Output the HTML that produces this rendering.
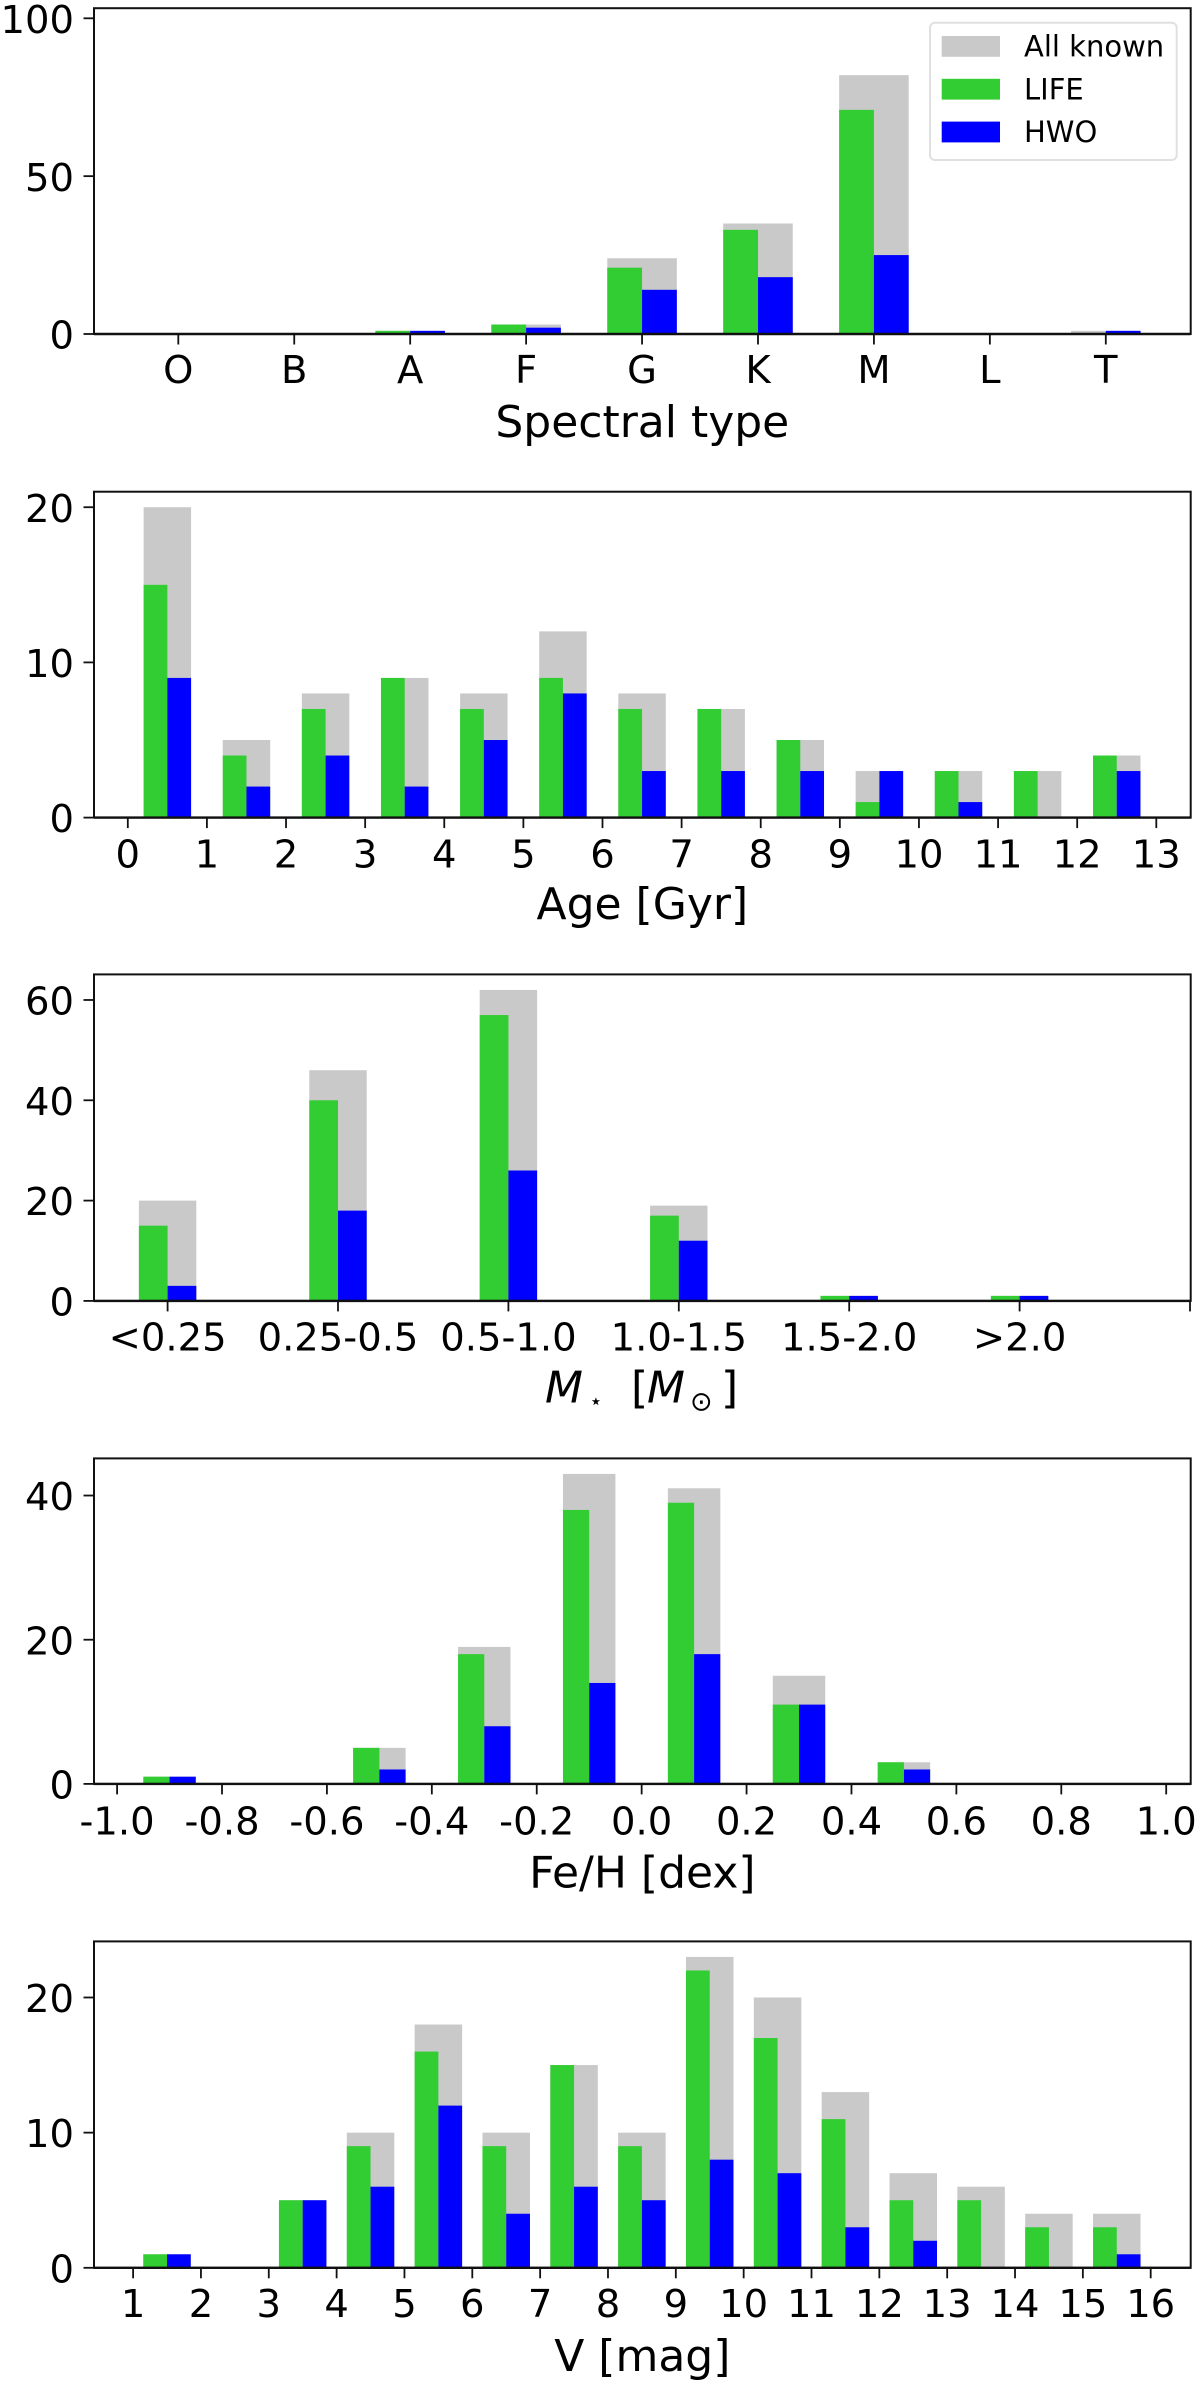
<!DOCTYPE html>
<html lang="en">
<head>
<meta charset="utf-8">
<title>Exoplanet host star distributions</title>
<style>
html,body{margin:0;padding:0;background:#fff}
svg{display:block}
text{font-family:"DejaVu Sans","Liberation Sans",sans-serif;fill:#000}
</style>
</head>
<body>
<svg id="figure" xmlns="http://www.w3.org/2000/svg" width="1200" height="2384" viewBox="0 0 1200 2384"></svg>
<script>
// Spectral type panel
const spectralCategories = [0, 1, 2, 3, 4, 5, 6, 7, 8];
const spectralTicks = [0, 1, 2, 3, 4, 5, 6, 7, 8];
const spectralTickLabels = ["O", "B", "A", "F", "G", "K", "M", "L", "T"];
const spectralYTicks = [0, 50, 100];
const spectralAll = [0, 0, 1, 3, 24, 35, 82, 0, 1];
const spectralLife = [0, 0, 1, 3, 21, 33, 71, 0, 0];
const spectralHwo = [0, 0, 1, 2, 14, 18, 25, 0, 1];

// Age panel
const ageCategories = [0.5, 1.5, 2.5, 3.5, 4.5, 5.5, 6.5, 7.5, 8.5, 9.5, 10.5, 11.5, 12.5];
const ageTicks = [0, 1, 2, 3, 4, 5, 6, 7, 8, 9, 10, 11, 12, 13];
const ageTickLabels = ["0", "1", "2", "3", "4", "5", "6", "7", "8", "9", "10", "11", "12", "13"];
const ageYTicks = [0, 10, 20];
const ageAll = [20, 5, 8, 9, 8, 12, 8, 7, 5, 3, 3, 3, 4];
const ageLife = [15, 4, 7, 9, 7, 9, 7, 7, 5, 1, 3, 3, 4];
const ageHwo = [9, 2, 4, 2, 5, 8, 3, 3, 3, 3, 1, 0, 3];

// Stellar mass panel
const massCategories = [0, 1, 2, 3, 4, 5];
const massTicks = [0, 1, 2, 3, 4, 5, 6];
const massTickLabels = ["<0.25", "0.25-0.5", "0.5-1.0", "1.0-1.5", "1.5-2.0", ">2.0", ""];
const massYTicks = [0, 20, 40, 60];
const massAll = [20, 46, 62, 19, 1, 1];
const massLife = [15, 40, 57, 17, 1, 1];
const massHwo = [3, 18, 26, 12, 1, 1];

// Metallicity panel
const fehCategories = [-0.9, -0.7, -0.5, -0.3, -0.1, 0.1, 0.3, 0.5];
const fehTicks = [-1, -0.8, -0.6, -0.4, -0.2, 0, 0.2, 0.4, 0.6, 0.8, 1];
const fehTickLabels = ["-1.0", "-0.8", "-0.6", "-0.4", "-0.2", "0.0", "0.2", "0.4", "0.6", "0.8", "1.0"];
const fehYTicks = [0, 20, 40];
const fehAll = [1, 0, 5, 19, 43, 41, 15, 3];
const fehLife = [1, 0, 5, 18, 38, 39, 11, 3];
const fehHwo = [1, 0, 2, 8, 14, 18, 11, 2];

// V magnitude panel
const vmagCategories = [1.5, 2.5, 3.5, 4.5, 5.5, 6.5, 7.5, 8.5, 9.5, 10.5, 11.5, 12.5, 13.5, 14.5, 15.5];
const vmagTicks = [1, 2, 3, 4, 5, 6, 7, 8, 9, 10, 11, 12, 13, 14, 15, 16];
const vmagTickLabels = ["1", "2", "3", "4", "5", "6", "7", "8", "9", "10", "11", "12", "13", "14", "15", "16"];
const vmagYTicks = [0, 10, 20];
const vmagAll = [1, 0, 5, 10, 18, 10, 15, 10, 23, 20, 13, 7, 6, 4, 4];
const vmagLife = [1, 0, 5, 9, 16, 9, 15, 9, 22, 17, 11, 5, 5, 3, 3];
const vmagHwo = [1, 0, 5, 6, 12, 4, 6, 5, 8, 7, 3, 2, 0, 0, 1];

const NS = 'http://www.w3.org/2000/svg';
const figure = document.getElementById('figure');
const COLOR_ALL = '#c9c9c9', COLOR_LIFE = '#32cd32', COLOR_HWO = '#0000ff';
const PLOT_LEFT = 94, PLOT_RIGHT = 1190.7;
const TICK_FONT = 38.5, LABEL_FONT = 44;

function el(tag, attrs, parent) {
  const node = document.createElementNS(NS, tag);
  for (const k in attrs) node.setAttribute(k, attrs[k]);
  (parent || figure).appendChild(node);
  return node;
}

function drawPanel(p) {
  const g = el('g', {});
  
  

  const xScale = v => p.xPix0 + (v - p.xDom0) * (p.xPix1 - p.xPix0) / (p.xDom1 - p.xDom0);
  const yScale = v => p.base - v * (p.base - p.top) / p.yMax;

  const drawBars = (values, seriesName, color, offset, width) => {
    values.forEach((v, i) => {
      const x0 = xScale(p.categories[i] + offset);
      const x1 = xScale(p.categories[i] + offset + width);
      const bar = el('rect', {x: x0, y: yScale(v), width: x1 - x0, height: p.base - yScale(v), fill: color}, g);
      
      
    });
  };
  drawBars(p.all, 'all-known', COLOR_ALL, -p.barWidth / 2, p.barWidth);
  drawBars(p.life, 'life', COLOR_LIFE, -p.barWidth / 2, p.barWidth / 2);
  drawBars(p.hwo, 'hwo', COLOR_HWO, 0, p.barWidth / 2);

  const frame = el('rect', {x: PLOT_LEFT, y: p.top, width: PLOT_RIGHT - PLOT_LEFT, height: p.base - p.top, fill: 'none', stroke: '#111', 'stroke-width': 2}, g);
  
  
  const bottomSpine = el('line', {x1: PLOT_LEFT, x2: PLOT_RIGHT, y1: p.base, y2: p.base, stroke: '#111', 'stroke-width': 2.4}, g);
  
  

  p.xTicks.forEach((t, i) => {
    const x = xScale(t);
    const tick = el('line', {x1: x, x2: x, y1: p.base, y2: p.base + 10.5, stroke: '#111', 'stroke-width': 1.8}, g);
    
    
    const label = el('text', {x: x, y: p.base + p.tickBaseline, 'text-anchor': 'middle', 'font-size': TICK_FONT}, g);
    label.textContent = p.xTickLabels[i];
    
    
  });

  p.yTicks.forEach(t => {
    const y = yScale(t);
    const tick = el('line', {x1: PLOT_LEFT - 10.5, x2: PLOT_LEFT, y1: y, y2: y, stroke: '#111', 'stroke-width': 1.8}, g);
    
    
    const label = el('text', {x: 74, y: y + 14.6, 'text-anchor': 'end', 'font-size': TICK_FONT}, g);
    label.textContent = String(t);
    
    
  });

  const title = el('text', {x: p.labelX || 642.3, y: p.base + p.labelBaseline, 'text-anchor': p.labelAnchor || 'middle', 'font-size': LABEL_FONT}, g);
  
  
  p.label.forEach(part => {
    const span = el('tspan', part.attrs || {}, title);
    span.textContent = part.text;
  });
}

drawPanel({name: 'spectral-type', categories: spectralCategories, all: spectralAll, life: spectralLife, hwo: spectralHwo,
  xTicks: spectralTicks, xTickLabels: spectralTickLabels, yTicks: spectralYTicks,
  xDom0: 0, xDom1: 8, xPix0: 178.3, xPix1: 1105.8, top: 8.2, base: 334, yMax: 103.2, barWidth: 0.6,
  tickBaseline: 49.2, labelBaseline: 102.8, label: [{text: 'Spectral type'}]});

drawPanel({name: 'age', categories: ageCategories, all: ageAll, life: ageLife, hwo: ageHwo,
  xTicks: ageTicks, xTickLabels: ageTickLabels, yTicks: ageYTicks,
  xDom0: 0, xDom1: 13, xPix0: 127.8, xPix1: 1156.3, top: 491.7, base: 817.6, yMax: 21, barWidth: 0.6,
  tickBaseline: 49.7, labelBaseline: 101.4, label: [{text: 'Age [Gyr]'}]});

drawPanel({name: 'stellar-mass', categories: massCategories, all: massAll, life: massLife, hwo: massHwo,
  xTicks: massTicks, xTickLabels: massTickLabels, yTicks: massYTicks,
  xDom0: 0, xDom1: 6, xPix0: 167.6, xPix1: 1190, top: 974.4, base: 1300.9, yMax: 65.1, barWidth: 0.337,
  tickBaseline: 49.8, labelBaseline: 101.5, labelX: 545, labelAnchor: 'start', label: [
    {text: 'M', attrs: {'font-style': 'italic'}},
    {text: '\u22C6', attrs: {x: 589, dy: 6, 'font-size': 22}},
    {text: '[', attrs: {x: 631, dy: -6}},
    {text: 'M', attrs: {x: 647, 'font-style': 'italic'}},
    {text: '\u2299', attrs: {x: 690, dy: 8, 'font-size': 27}},
    {text: ']', attrs: {x: 721, dy: -8}}
  ]});

drawPanel({name: 'metallicity', categories: fehCategories, all: fehAll, life: fehLife, hwo: fehHwo,
  xTicks: fehTicks, xTickLabels: fehTickLabels, yTicks: fehYTicks,
  xDom0: -1, xDom1: 1, xPix0: 117.1, xPix1: 1166.2, top: 1458.4, base: 1783.9, yMax: 45.15, barWidth: 0.1,
  tickBaseline: 50.8, labelBaseline: 103.5, label: [{text: 'Fe/H [dex]'}]});

drawPanel({name: 'v-magnitude', categories: vmagCategories, all: vmagAll, life: vmagLife, hwo: vmagHwo,
  xTicks: vmagTicks, xTickLabels: vmagTickLabels, yTicks: vmagYTicks,
  xDom0: 1, xDom1: 16, xPix0: 133.1, xPix1: 1150.7, top: 1941.4, base: 2267.8, yMax: 24.15, barWidth: 0.7,
  tickBaseline: 49.4, labelBaseline: 103, label: [{text: 'V [mag]'}]});

// Legend
const legend = el('g', {});


el('rect', {x: 930, y: 22.7, width: 246.7, height: 137.3, rx: 5, ry: 5, fill: '#fff', stroke: '#e0e0e0', 'stroke-width': 2}, legend);
const legendLabels = ['All known', 'LIFE', 'HWO'];
const legendColors = [COLOR_ALL, COLOR_LIFE, COLOR_HWO];
legendLabels.forEach((text, i) => {
  const swatch = el('rect', {x: 941.7, y: 36 + i * 42.8, width: 58.3, height: 20.8, fill: legendColors[i]}, legend);
  
  
  const label = el('text', {x: 1024, y: 56.7 + i * 42.6, 'font-size': 29}, legend);
  label.textContent = text;
  
  
});
</script>
</body>
</html>
